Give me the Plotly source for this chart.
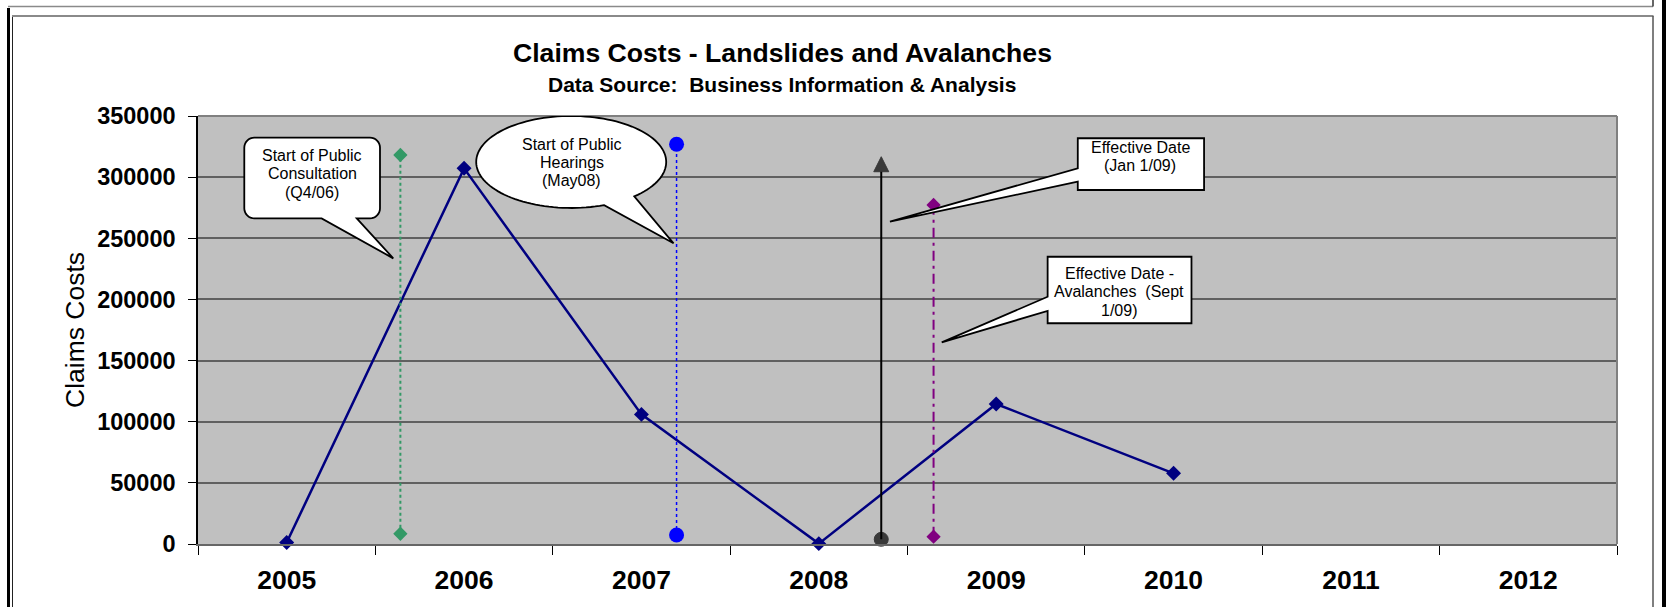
import math
import plotly.graph_objects as go

# ---- data -------------------------------------------------------------
years = [2005, 2006, 2007, 2008, 2009, 2010]
claims = [1200, 307200, 106000, 300, 114500, 57800]

axis_years = [2005, 2006, 2007, 2008, 2009, 2010, 2011, 2012]
axis_labels = [str(y) for y in axis_years]

# milestone marker lines (x = fractional year, y = bottom/top value)
consult_x = [2005.641, 2005.641]
consult_y = [8400, 318100]
hearing_x = [2007.198, 2007.198]
hearing_y = [7400, 326900]
effective_x = [2008.352, 2008.352]
effective_y = [3800, 316700]
avalanche_x = [2008.647, 2008.647]
avalanche_y = [6000, 277200]

# ---- geometry ---------------------------------------------------------
W, H = 1666, 607
M_L, M_R, M_T, M_B = 198, 49, 116, 63
PLOT_W = W - M_L - M_R
PLOT_H = H - M_T - M_B
X0, X1 = 2004.5, 2012.5
Y0, Y1 = 0, 350000
PX_PER_YEAR = PLOT_W / (X1 - X0)
VAL_PER_PX = (Y1 - Y0) / PLOT_H
FONT = "Arial, Liberation Sans, sans-serif"


def fx(px):
    return (px - M_L) / PLOT_W


def fy(py):
    return (M_T + PLOT_H - py) / PLOT_H


def path_from(points):
    return "M" + " L".join(f"{x:.5f},{y:.2f}" for x, y in points) + " Z"


def rounded_box(x0, x1, yb, yt, r_px, tail, n=8):
    """Rounded rectangle with a pointer leaving the bottom edge."""
    rx = r_px / PX_PER_YEAR
    ry = r_px * VAL_PER_PX
    pts = []

    def corner(cx, cy, a0, a1):
        for i in range(n + 1):
            a = math.radians(a0 + (a1 - a0) * i / n)
            pts.append((cx + rx * math.cos(a), cy + ry * math.sin(a)))

    (bx0, bx1), (tx, ty) = tail
    corner(x0 + rx, yb + ry, 180, 270)
    pts += [(bx0, yb), (tx, ty), (bx1, yb)]
    corner(x1 - rx, yb + ry, 270, 360)
    corner(x1 - rx, yt - ry, 0, 90)
    corner(x0 + rx, yt - ry, 90, 180)
    return path_from(pts)


def ellipse_bubble(cx, cy, rx_px, ry_px, a_from, a_to, tip, n=120):
    """Ellipse outline from a_from round to a_to (screen degrees, clockwise),
    closed through the pointer tip."""
    pts = []
    span = (a_to - a_from) % 360
    for i in range(n + 1):
        a = math.radians(a_from + span * i / n)
        pts.append((cx + rx_px * math.cos(a) / PX_PER_YEAR,
                    cy - ry_px * math.sin(a) * VAL_PER_PX))
    pts.append(tip)
    return path_from(pts)


def side_box(x0, x1, yb, yt, tail):
    """Rectangle with a pointer leaving the left edge."""
    (ty_hi, ty_lo), (tx, tyy) = tail
    pts = [(x0, yt), (x1, yt), (x1, yb), (x0, yb), (x0, ty_lo), (tx, tyy), (x0, ty_hi)]
    return path_from(pts)


fig = go.Figure()

fig.add_trace(go.Scatter(
    x=years, y=claims, mode="lines+markers", cliponaxis=False,
    line=dict(color="#000080", width=2.5),
    marker=dict(symbol="diamond", size=11.5, color="#000080"),
    showlegend=False, hoverinfo="skip"))

fig.add_trace(go.Scatter(
    x=consult_x, y=consult_y, mode="lines+markers", cliponaxis=False,
    line=dict(color="#339966", width=2, dash="dot"),
    marker=dict(symbol="diamond", size=11, color="#339966"),
    showlegend=False, hoverinfo="skip"))

fig.add_trace(go.Scatter(
    x=hearing_x, y=hearing_y, mode="lines+markers", cliponaxis=False,
    line=dict(color="#0000FF", width=1.5, dash="dot"),
    marker=dict(symbol="circle", size=15, color="#0000FF"),
    showlegend=False, hoverinfo="skip"))

fig.add_trace(go.Scatter(
    x=effective_x, y=effective_y, mode="lines+markers", cliponaxis=False,
    line=dict(color="black", width=2),
    marker=dict(symbol=["circle", "arrow-up"], size=[14, 15], color="black",
                line=dict(color="black", width=1)),
    showlegend=False, hoverinfo="skip"))

fig.add_trace(go.Scatter(
    x=avalanche_x, y=avalanche_y, mode="lines+markers", cliponaxis=False,
    line=dict(color="#800080", width=2, dash="10px,5px,3px,5px"),
    marker=dict(symbol="diamond", size=11, color="#800080"),
    showlegend=False, hoverinfo="skip"))

shapes = []
# outer frames
frame = dict(type="line", xref="paper", yref="paper", layer="above")
shapes += [
    dict(frame, x0=fx(8), x1=fx(1653), y0=fy(6.5), y1=fy(6.5), line=dict(color="#8a8a8a", width=1.5)),
    dict(frame, x0=fx(1653), x1=fx(1653), y0=fy(0), y1=fy(6.5), line=dict(color="#333", width=1.5)),
    dict(frame, x0=fx(8.5), x1=fx(8.5), y0=fy(8), y1=fy(H + 2), line=dict(color="black", width=3)),
    dict(frame, x0=fx(1664), x1=fx(1664), y0=fy(0), y1=fy(H + 2), line=dict(color="black", width=4)),
    dict(frame, x0=fx(12.5), x1=fx(12.5), y0=fy(16), y1=fy(H + 2), line=dict(color="#222", width=1)),
    dict(frame, x0=fx(12), x1=fx(1653.5), y0=fy(16), y1=fy(16), line=dict(color="#8a8a8a", width=2)),
    dict(frame, x0=fx(1653), x1=fx(1653), y0=fy(16), y1=fy(H + 2), line=dict(color="#555", width=1.5)),
]
# plot-area edges
edge = dict(type="line", xref="paper", yref="paper", layer="above", line=dict(color="#808080", width=2))
shapes += [
    dict(edge, x0=0, x1=1, y0=1, y1=1),
    dict(edge, x0=1, x1=1, y0=0, y1=1),
]

callout = dict(type="path", xref="x", yref="y", layer="above",
               fillcolor="white", line=dict(color="black", width=1.8))
shapes += [
    dict(callout, path=rounded_box(2004.761, 2005.526, 266300, 332300, 10,
                                   ((2005.197, 2005.395), (2005.601, 233600)))),
    dict(callout, path=ellipse_bubble(2006.604, 312400, 95, 46, 69.7, 48.4,
                                      (2007.181, 245900))),
    dict(callout, path=side_box(2009.460, 2010.172, 289500, 331800,
                                ((307200, 296300), (2008.401, 263600)))),
    dict(callout, path=side_box(2009.290, 2010.101, 180500, 234900,
                                ((202200, 190600), (2008.693, 164900)))),
]

annotations = []
callout_text = [
    (2005.143, 317800, 18.6, ["Start of Public", "Consultation", "(Q4/06)"]),
    (2006.606, 326300, 18.0, ["Start of Public", "Hearings", "(May08)"]),
    (2009.811, 324100, 18.3, ["Effective Date", "(Jan 1/09)"]),
    (2009.695, 221400, 18.4, ["Effective Date -", "Avalanches  (Sept", "1/09)"]),
]
for cx, cy, step, lines in callout_text:
    for i, line in enumerate(lines):
        annotations.append(dict(
            x=cx, y=cy - i * step * VAL_PER_PX, xref="x", yref="y",
            text=line, showarrow=False, xanchor="center", yanchor="middle",
            font=dict(family=FONT, size=16, color="black")))

annotations += [
    dict(x=fx(782), y=fy(53), xref="paper", yref="paper", showarrow=False,
         text="Claims Costs - Landslides and Avalanches",
         xanchor="center", yanchor="middle",
         font=dict(family=FONT, size=26.6, color="black", weight="bold")),
    dict(x=fx(782), y=fy(85), xref="paper", yref="paper", showarrow=False,
         text="Data Source:  Business Information &amp; Analysis",
         xanchor="center", yanchor="middle",
         font=dict(family=FONT, size=21, color="black", weight="bold")),
    dict(x=fx(75), y=0.5, xref="paper", yref="paper", showarrow=False,
         text="Claims Costs", textangle=-90,
         xanchor="center", yanchor="middle",
         font=dict(family=FONT, size=26.5, color="black")),
]

fig.update_layout(
    width=W, height=H,
    margin=dict(l=M_L, r=M_R, t=M_T, b=M_B, pad=0),
    paper_bgcolor="white", plot_bgcolor="#C0C0C0",
    showlegend=False,
    shapes=shapes, annotations=annotations,
    xaxis=dict(
        range=[X0, X1], tickmode="array", tickvals=axis_years, ticktext=axis_labels,
        ticks="", showgrid=False, zeroline=False,
        showline=True, linecolor="#666666", linewidth=2,
        tickfont=dict(family=FONT, size=26.5, color="black", weight="bold"),
        ticklabelstandoff=11,
        minor=dict(tickmode="linear", tick0=X0, dtick=1, ticks="outside",
                   ticklen=9, tickcolor="black", tickwidth=1, showgrid=False),
        fixedrange=True),
    yaxis=dict(
        range=[Y0, Y1], tickmode="linear", tick0=0, dtick=50000, tickformat="d",
        showgrid=True, gridcolor="#606060", gridwidth=2, zeroline=False,
        ticks="outside", ticklen=8, tickcolor="black", tickwidth=1,
        showline=True, linecolor="black", linewidth=1.5,
        tickfont=dict(family=FONT, size=23.5, color="black", weight="bold"),
        ticklabelstandoff=8,
        fixedrange=True),
)

fig.write_html("out.html")
